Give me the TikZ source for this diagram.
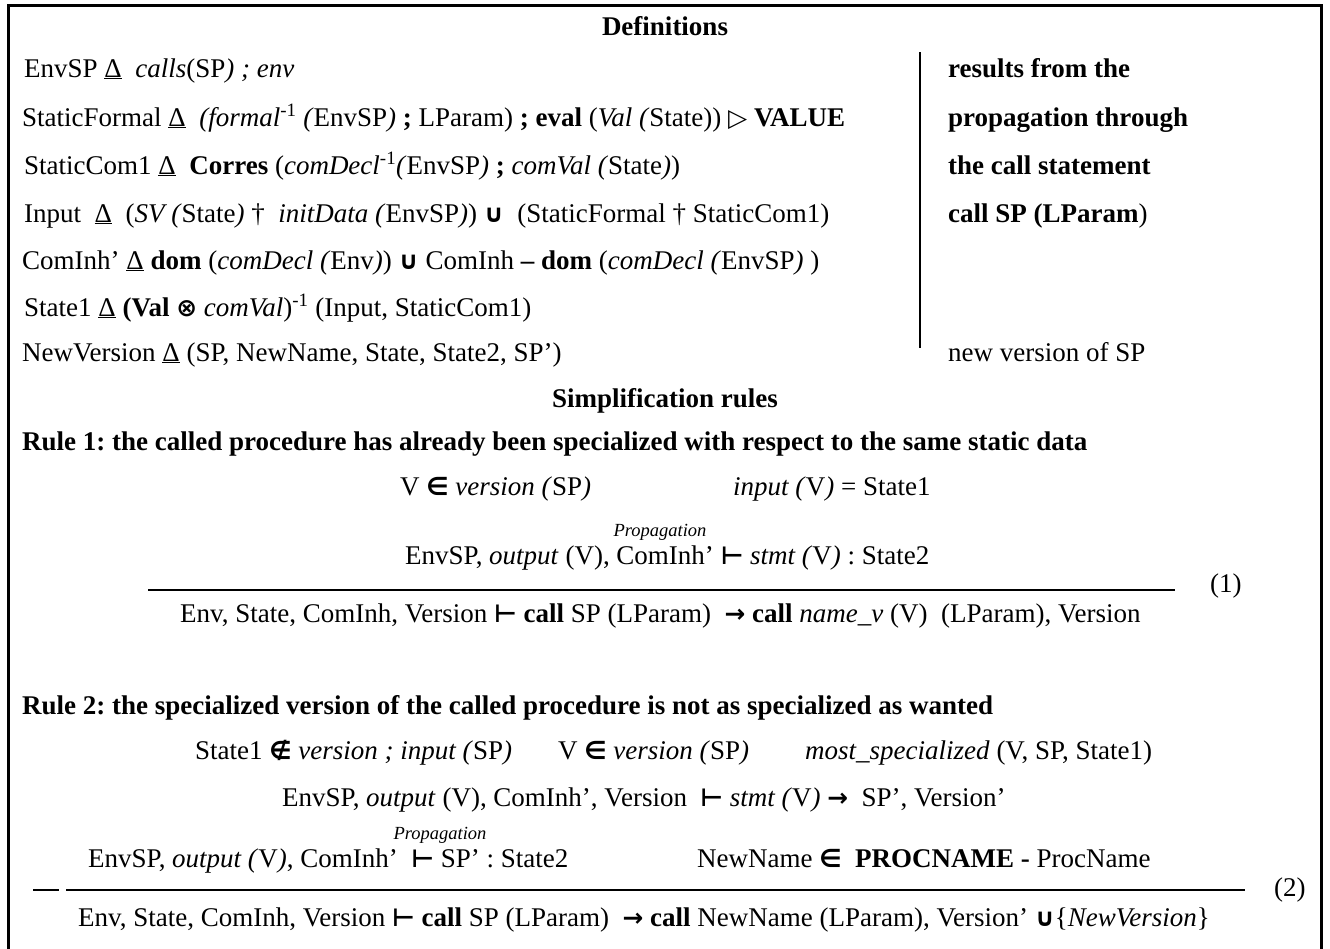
\documentclass[tikz,border=0pt]{standalone}
\usepackage{fontspec}
\setmainfont{Liberation Serif}
\newfontfamily\symf{DejaVu Sans}[Scale=0.92]
\newcommand{\dlt}{\underline{Δ}}
\newcommand{\sy}[1]{{\symf\bfseries #1}}
\newcommand{\mone}{\textsuperscript{-1}}
\frenchspacing
\begin{document}
\begin{tikzpicture}[x=1pt,y=-1pt,
  every node/.style={inner sep=0pt,font=\fontsize{27}{31}\selectfont},
  lt/.style={anchor=base west},
  ct/.style={anchor=base},
  prop/.style={anchor=base,font=\fontsize{18.5}{20}\selectfont\itshape},
  frame/.style={line width=2.5pt},
  vbar/.style={line width=2pt},
  ruleline/.style={line width=1.1pt}]
\useasboundingbox (0,0) rectangle (1330,948);
\draw[frame] (8.5,960) -- (8.5,5.5) -- (1321.5,5.5) -- (1321.5,960);
% Definitions
\node[ct] (tdef) at (665,35) {\textbf{Definitions}};
\node[lt] (d1) at (24,77) {EnvSP \dlt\ \ \textit{calls}(SP\textit{) ; env}};
\node[lt] (d2) at (22,126) {StaticFormal \dlt\ \ \textit{(formal}\mone\ \textit{(}EnvSP\textit{)} \textbf{;} LParam) \textbf{; eval} (\textit{Val (}State)) \sy{▷} \textbf{VALUE}};
\node[lt] (d3) at (24,174) {StaticCom1 \dlt\ \ \textbf{Corres} (\textit{comDecl}\mone\textit{(}EnvSP\textit{)} \textbf{;} \textit{comVal (}State\textit{)})};
\node[lt] (d4) at (24,222) {Input\ \ \dlt\ \ (\textit{SV (}State\textit{)} †\ \ \textit{initData (}EnvSP\textit{)}) \sy{∪}\ \ (StaticFormal † StaticCom1)};
\node[lt] (d5) at (22,269) {ComInh’ \dlt\ \textbf{dom} (\textit{comDecl (}Env\textit{)}) \sy{∪} ComInh \textbf{–} \textbf{dom} (\textit{comDecl (}EnvSP\textit{)} )};
\node[lt] (d6) at (24,316) {State1 \dlt\ \textbf{(Val} \sy{⊗} \textit{comVal})\mone\ (Input, StaticCom1)};
\node[lt] (d7) at (22,361) {NewVersion \dlt\ (SP, NewName, State, State2, SP’)};
\coordinate (vt) at (920,52);
\coordinate (vb) at (920,348);
\draw[vbar] (vt) -- (vb);
\node[lt] (r1) at (948,77) {\textbf{results from the}};
\node[lt] (r2) at (948,126) {\textbf{propagation through}};
\node[lt] (r3) at (948,174) {\textbf{the call statement}};
\node[lt] (r4) at (948,222) {\textbf{call SP (LParam})};
\node[lt] (r5) at (948,361) {new version of SP};
% Simplification rules
\node[ct] (tsimp) at (665,407) {\textbf{Simplification rules}};
\node[lt] (h1) at (22,450) {\textbf{Rule 1: the called procedure has already been specialized with respect to the same static data}};
\node[lt] (p11) at (400,495) {V \sy{∈} \textit{version (}SP\textit{)}};
\node[lt] (p12) at (733,495) {\textit{input (}V\textit{)} = State1};
\node[prop] (pr1) at (660,536) {Propagation};
\node[lt] (p13) at (405,564) {EnvSP, \textit{output} (V), ComInh’ \sy{⊢} \textit{stmt (}V\textit{)} : State2};
\coordinate (l1a) at (148,590);
\coordinate (l1b) at (1175,590);
\draw[ruleline] (l1a) -- (l1b);
\node[lt] (n1) at (1210,592) {(1)};
\node[lt] (c1) at (180,622) {Env, State, ComInh, Version \sy{⊢} \textbf{call} SP (LParam)\ \ \sy{→} \textbf{call} \textit{name\_v} (V)\ \ (LParam), Version};
% Rule 2
\node[lt] (h2) at (22,714) {\textbf{Rule 2: the specialized version of the called procedure is not as specialized as wanted}};
\node[lt] (p21) at (195,759) {State1 \sy{∉} \textit{version ; input (}SP\textit{)}};
\node[lt] (p22) at (558,759) {V \sy{∈} \textit{version (}SP\textit{)}};
\node[lt] (p23) at (805,759) {\textit{most\_specialized} (V, SP, State1)};
\node[lt] (p24) at (282,806) {EnvSP, \textit{output} (V), ComInh’, Version\ \ \sy{⊢} \textit{stmt (}V\textit{)}\ \sy{→}\ \ SP’, Version’};
\node[prop] (pr2) at (440,839) {Propagation};
\node[lt] (p25) at (88,867) {EnvSP, \textit{output (}V\textit{)}, ComInh’\ \ \sy{⊢} SP’ : State2};
\node[lt] (p26) at (697,867) {NewName \sy{∈}\ \ \textbf{PROCNAME -} ProcName};
\coordinate (l2a) at (33,890);
\coordinate (l2b) at (59,890);
\coordinate (l2c) at (66,890);
\coordinate (l2d) at (1245,890);
\draw[ruleline] (l2a) -- (l2b);
\draw[ruleline] (l2c) -- (l2d);
\node[lt] (n2) at (1274,896) {(2)};
\node[lt] (c2) at (78,926) {Env, State, ComInh, Version \sy{⊢} \textbf{call} SP (LParam)\ \ \sy{→} \textbf{call} NewName (LParam), Version’ \sy{∪}\{\textit{NewVersion}\}};
\end{tikzpicture}
\end{document}
